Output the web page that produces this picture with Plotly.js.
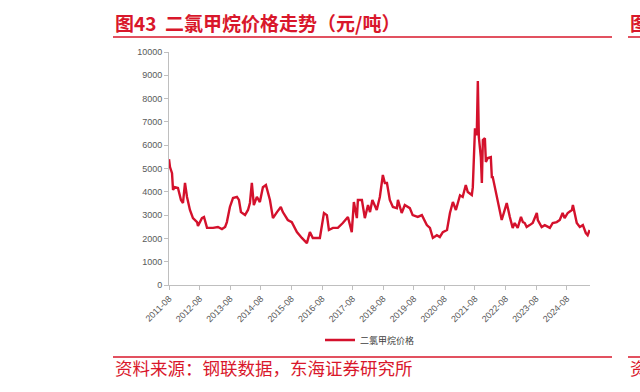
<!DOCTYPE html>
<html>
<head>
<meta charset="utf-8">
<script src="https://cdn.plot.ly/plotly-3.0.1.min.js"></script>
<style>html,body{margin:0;padding:0;background:#fff;}#chart{width:640px;height:392px;}</style>
</head>
<body>
<div id="chart"></div>
<script>
const dates = [
"2011-08-01","2011-08-13","2011-09-06","2011-09-18","2011-10-10","2011-11-16","2011-12-22","2012-01-15","2012-02-08","2012-03-03",
"2012-04-07","2012-05-13","2012-07-01","2012-07-12","2012-08-28","2012-09-22","2012-10-28","2012-12-03","2013-01-08","2013-03-07",
"2013-04-24","2013-06-01","2013-06-22","2013-07-28","2013-09-03","2013-10-20","2013-11-13","2013-12-07","2014-01-25","2014-03-01",
"2014-03-24","2014-04-16","2014-05-10","2014-06-15","2014-07-21","2014-08-26","2014-10-01","2014-11-18","2014-12-24","2015-02-10",
"2015-03-28","2015-04-21","2015-06-19","2015-08-06","2015-10-06","2015-12-04","2016-02-02","2016-03-09","2016-04-13","2016-07-06",
"2016-08-24","2016-09-28","2016-10-22","2016-12-09","2017-02-06","2017-04-06","2017-06-06","2017-07-22","2017-08-16","2017-09-21",
"2017-10-03","2017-11-20","2017-12-25","2018-02-01","2018-02-25","2018-03-25","2018-05-16","2018-06-22","2018-07-28","2018-08-21",
"2018-09-15","2018-10-19","2018-11-25","2019-01-12","2019-01-24","2019-03-10","2019-04-16","2019-06-15","2019-07-19","2019-09-18",
"2019-11-06","2020-01-04","2020-02-10","2020-03-16","2020-05-03","2020-06-07","2020-07-13","2020-09-01","2020-10-06","2020-11-10",
"2020-12-16","2021-02-03","2021-03-07","2021-04-13","2021-05-07","2021-06-24","2021-07-06","2021-08-01","2021-08-22","2021-09-04",
"2021-09-16","2021-10-10","2021-10-22","2021-11-03","2021-11-27","2021-12-09","2022-01-01","2022-02-06","2022-02-18","2022-03-01",
"2022-03-25","2022-04-18","2022-05-25","2022-06-16","2022-07-22","2022-08-15","2022-09-21","2022-10-25","2022-11-18","2022-12-24",
"2023-02-01","2023-02-24","2023-03-18","2023-04-10","2023-05-16","2023-06-21","2023-08-09","2023-08-21","2023-10-06","2023-11-12",
"2024-01-12","2024-02-15","2024-04-03","2024-05-09","2024-06-12","2024-07-06","2024-08-12","2024-10-01","2024-10-13","2024-11-06",
"2024-11-28","2025-01-03","2025-02-09","2025-03-16","2025-04-07","2025-05-01"
];
const prices = [
5400,5060,4800,4080,4200,4160,3650,3520,4380,3780,
3220,2870,2700,2530,2870,2920,2450,2450,2450,2490,
2400,2490,2700,3350,3730,3780,3650,3130,3000,3220,
3520,4380,3430,3780,3560,4200,4290,3650,2870,3130,
3350,3130,2790,2700,2270,2020,1800,2270,2020,2020,
3090,3000,2360,2450,2450,2660,2920,2270,3560,2870,
3650,3650,2870,3430,3130,3650,3220,3780,4720,4380,
4380,3650,3350,3300,3650,3090,3430,3300,3000,2920,
3000,2570,2450,2020,2140,2060,2270,2360,3090,3560,
3220,3850,3780,4290,3990,3860,4200,6730,6430,8750,
6350,5490,4380,6220,6300,5280,5450,5490,4630,4630,
4200,3860,3220,2790,3220,3520,2920,2450,2660,2450,
2920,2700,2660,2490,2570,2660,3090,2790,2490,2570,
2450,2660,2700,2790,3090,2870,3090,3220,3430,3090,
2660,2490,2570,2230,2140,2360
];
const seriesName = "二氯甲烷价格";
const titleText = "图43  二氯甲烷价格走势（元/吨）";
const sourceText = "资料来源：钢联数据，东海证券研究所";

const red = "#d9172b";
const L = 169, R = 590, T = 52, B = 285;
const px = x => (x - L) / (R - L);
const py = y => (B - y) / (B - T);

const trace = {
  x: dates, y: prices, type: "scatter", mode: "lines", name: seriesName,
  line: {color: "#d4112c", width: 2.4}
};

const layout = {
  width: 640, height: 392, autosize: false,
  margin: {l: L, r: 640 - R, t: T, b: 392 - B, pad: 0},
  paper_bgcolor: "#fff", plot_bgcolor: "#fff",
  font: {family: "Liberation Sans, Arial, sans-serif", size: 9, color: "#595959"},
  xaxis: {
    type: "date", range: ["2011-08-01", "2025-05-05"],
    tick0: "2011-08-01", dtick: "M12", tickformat: "%Y-%m", tickangle: -45,
    ticks: "outside", ticklen: 4, tickcolor: "#bfbfbf",
    showline: true, linecolor: "#bfbfbf", linewidth: 1,
    showgrid: false, zeroline: false,
    tickfont: {size: 9, color: "#595959"}
  },
  yaxis: {
    range: [0, 10000], dtick: 1000, tick0: 0, tickformat: "d",
    ticks: "outside", ticklen: 4, tickcolor: "#bfbfbf",
    showline: true, linecolor: "#bfbfbf", linewidth: 1,
    showgrid: false, zeroline: false,
    tickfont: {size: 9, color: "#595959"}
  },
  showlegend: true,
  legend: {
    orientation: "h", x: px(320), xanchor: "left", y: py(340), yanchor: "middle",
    font: {family: "Noto Sans CJK SC, sans-serif", size: 9, color: "#404040"},
    bgcolor: "rgba(0,0,0,0)"
  },
  shapes: [
    {type: "line", xref: "paper", yref: "paper", x0: px(113), x1: px(612), y0: py(37), y1: py(37), line: {color: red, width: 1.5}},
    {type: "line", xref: "paper", yref: "paper", x0: px(628), x1: px(645), y0: py(37), y1: py(37), line: {color: red, width: 1.5}},
    {type: "line", xref: "paper", yref: "paper", x0: px(113), x1: px(612), y0: py(357), y1: py(357), line: {color: red, width: 1.5}},
    {type: "line", xref: "paper", yref: "paper", x0: px(628), x1: px(645), y0: py(357), y1: py(357), line: {color: red, width: 1.5}}
  ],
  annotations: [
    {text: titleText, xref: "paper", yref: "paper", x: px(113), y: py(22), xanchor: "left", yanchor: "middle",
     showarrow: false, font: {family: "Noto Sans CJK SC, sans-serif", size: 19, color: red, weight: 700}},
    {text: "图", xref: "paper", yref: "paper", x: px(628), y: py(22), xanchor: "left", yanchor: "middle",
     showarrow: false, font: {family: "Noto Sans CJK SC, sans-serif", size: 19, color: red, weight: 700}},
    {text: sourceText, xref: "paper", yref: "paper", x: px(113), y: py(368), xanchor: "left", yanchor: "middle",
     showarrow: false, font: {family: "Noto Sans CJK SC, sans-serif", size: 17.5, color: red}},
    {text: "资", xref: "paper", yref: "paper", x: px(628), y: py(368), xanchor: "left", yanchor: "middle",
     showarrow: false, font: {family: "Noto Sans CJK SC, sans-serif", size: 17.5, color: red}}
  ]
};

Plotly.newPlot("chart", [trace], layout, {displayModeBar: false, staticPlot: true});
</script>
</body>
</html>
